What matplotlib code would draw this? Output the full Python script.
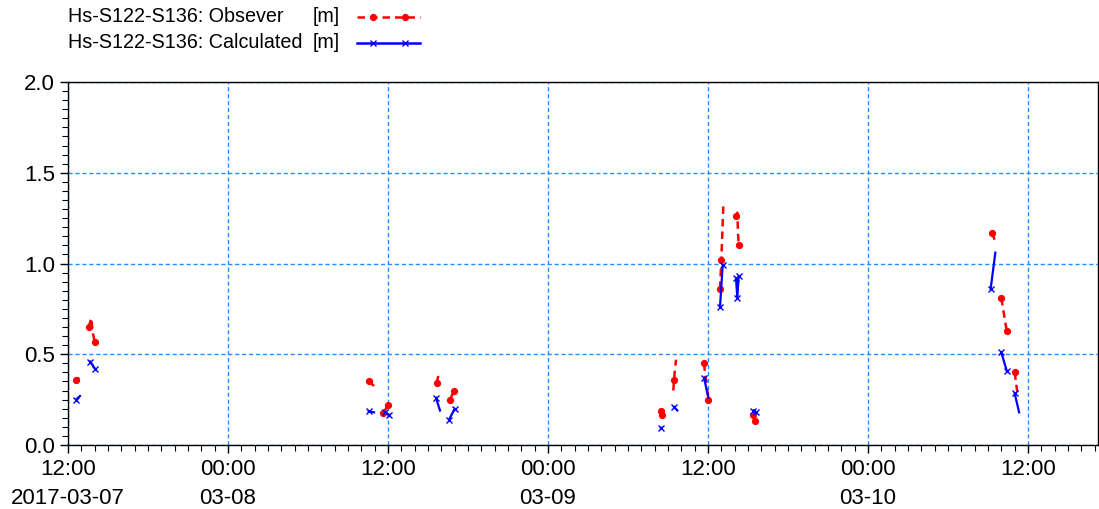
import numpy as np
import pandas as pd
import matplotlib
matplotlib.use("Agg")
import matplotlib.pyplot as plt
import matplotlib.dates as mdates
from matplotlib.lines import Line2D
from matplotlib.ticker import MultipleLocator, FuncFormatter

plt.rcParams['font.family'] = ['Liberation Sans', 'DejaVu Sans']

# observed wave height, None = gap between measurement bursts
obs_time = [
    "2017-03-07 12:36", "2017-03-07 12:51", None,
    "2017-03-07 13:33", "2017-03-07 13:45", "2017-03-07 13:51", "2017-03-07 14:00", None,
    "2017-03-08 10:36", "2017-03-08 10:57", None,
    "2017-03-08 11:39", "2017-03-08 11:59", None,
    "2017-03-08 15:39", "2017-03-08 15:48", None,
    "2017-03-08 16:39", "2017-03-08 16:50", "2017-03-08 16:58", None,
    "2017-03-09 08:29", "2017-03-09 08:33", None,
    "2017-03-09 09:24", "2017-03-09 09:27", "2017-03-09 09:36", None,
    "2017-03-09 11:42", "2017-03-09 11:51", "2017-03-09 12:02", None,
    "2017-03-09 12:54", "2017-03-09 13:00", "2017-03-09 13:09", None,
    "2017-03-09 14:06", "2017-03-09 14:12", "2017-03-09 14:15", "2017-03-09 14:18", None,
    "2017-03-09 15:24", "2017-03-09 15:30", None,
    "2017-03-10 09:18", "2017-03-10 09:33", None,
    "2017-03-10 10:00", "2017-03-10 10:24", None,
    "2017-03-10 11:00", "2017-03-10 11:12",
]
obs_val = [
    0.36, 0.37, None,
    0.65, 0.70, 0.62, 0.57, None,
    0.35, 0.325, None,
    0.175, 0.22, None,
    0.34, 0.39, None,
    0.25, 0.28, 0.30, None,
    0.19, 0.165, None,
    0.30, 0.36, 0.47, None,
    0.45, 0.35, 0.25, None,
    0.86, 1.02, 1.32, None,
    1.26, 1.28, 1.17, 1.10, None,
    0.165, 0.13, None,
    1.17, 1.12, None,
    0.81, 0.63, None,
    0.40, 0.29,
]

# calculated wave height
calc_time = [
    "2017-03-07 12:36", "2017-03-07 12:54", None,
    "2017-03-07 13:39", "2017-03-07 14:02", None,
    "2017-03-08 10:33", "2017-03-08 10:57", None,
    "2017-03-08 11:48", "2017-03-08 12:06", None,
    "2017-03-08 15:36", "2017-03-08 15:54", None,
    "2017-03-08 16:35", "2017-03-08 17:00", None,
    "2017-03-09 08:28", "2017-03-09 08:32", None,
    "2017-03-09 09:27", "2017-03-09 09:42", None,
    "2017-03-09 11:42", "2017-03-09 12:02", None,
    "2017-03-09 12:54", "2017-03-09 13:06", None,
    "2017-03-09 14:06", "2017-03-09 14:12", "2017-03-09 14:18", None,
    "2017-03-09 15:24", "2017-03-09 15:36", None,
    "2017-03-10 09:12", "2017-03-10 09:33", None,
    "2017-03-10 10:00", "2017-03-10 10:24", None,
    "2017-03-10 11:00", "2017-03-10 11:20",
]
calc_val = [
    0.25, 0.27, None,
    0.46, 0.42, None,
    0.185, 0.18, None,
    0.18, 0.165, None,
    0.26, 0.19, None,
    0.14, 0.20, None,
    0.092, 0.095, None,
    0.21, 0.19, None,
    0.37, 0.26, None,
    0.76, 0.99, None,
    0.92, 0.81, 0.93, None,
    0.19, 0.18, None,
    0.86, 1.06, None,
    0.51, 0.41, None,
    0.285, 0.18,
]

obs_t = pd.to_datetime(obs_time)
obs_y = np.array([np.nan if v is None else v for v in obs_val])
calc_t = pd.to_datetime(calc_time)
calc_y = np.array([np.nan if v is None else v for v in calc_val])

# only some samples carry a symbol
obs_marks = [0, 3, 6, 8, 11, 12, 14, 17, 19, 21, 22, 25, 28, 30, 32, 33,
             36, 39, 41, 42, 44, 47, 48, 50]
calc_marks = [0, 3, 4, 6, 9, 10, 12, 15, 16, 18, 21, 24, 27, 28, 30, 31, 32,
              34, 35, 37, 40, 41, 43]

fig = plt.figure(figsize=(10.99, 5.09), dpi=100)
ax = fig.add_axes([68 / 1099, 1 - 445 / 509, 1030 / 1099, 363 / 509])

red = '#ff0000'
blue = '#0000ff'
ax.plot(obs_t, obs_y, color=red, lw=1.8, ls=(0, (3, 2)), marker='o', ms=4.2,
        mec=red, mfc=red, markevery=obs_marks, zorder=3)
ax.plot(calc_t, calc_y, color=blue, lw=1.6, ls='-', marker='x', ms=4.5,
        mew=1.0, markevery=calc_marks, zorder=3)

start = pd.Timestamp("2017-03-07 12:00")
ax.set_xlim(start, start + pd.Timedelta(hours=77.25))
ax.set_ylim(0, 2.0)

ax.xaxis.set_major_locator(mdates.HourLocator(byhour=[0, 12]))
ax.xaxis.set_minor_locator(mdates.HourLocator())


def fmt_time(x, pos):
    d = mdates.num2date(x)
    if pos == 0:
        return d.strftime("%H:%M\n%Y-%m-%d")
    if d.hour == 0:
        return d.strftime("%H:%M\n%m-%d")
    return d.strftime("%H:%M")


ax.xaxis.set_major_formatter(FuncFormatter(fmt_time))
ax.yaxis.set_major_locator(MultipleLocator(0.5))
ax.yaxis.set_minor_locator(MultipleLocator(0.05))
ax.yaxis.set_major_formatter(FuncFormatter(lambda v, p: f"{v:.1f}"))

ax.tick_params(which='major', direction='out', length=6, width=1, labelsize=16,
               colors='black')
ax.tick_params(which='minor', direction='out', length=4, width=0.8)
ax.tick_params(axis='x', which='major', pad=4)
for lbl in ax.get_xticklabels():
    lbl.set_linespacing(1.5)

ax.grid(True, which='major', color='#1e90ff', ls=(0, (3, 2)), lw=1)
for s in ax.spines.values():
    s.set_color('black')
    s.set_linewidth(1)

# legend drawn at the top left of the figure
rows = [("Hs-S122-S136: Obsever", 1 - 17 / 509, red, (0, (3, 2)), 'o'),
        ("Hs-S122-S136: Calculated", 1 - 43 / 509, blue, '-', 'x')]
for text, yy, col, ls, mk in rows:
    fig.text(68 / 1099, yy, text, fontsize=14.2, va='center', ha='left')
    fig.text(313 / 1099, yy, "[m]", fontsize=14.2, va='center', ha='left')
    fig.add_artist(Line2D([357 / 1099, 420 / 1099], [yy, yy], color=col, ls=ls,
                          lw=1.8, transform=fig.transFigure))
    fig.add_artist(Line2D([373 / 1099, 405 / 1099], [yy, yy], color=col, ls='none',
                          marker=mk, ms=4.2, mfc=col, mec=col, mew=1,
                          transform=fig.transFigure))

fig.savefig("out.png", dpi=100)
